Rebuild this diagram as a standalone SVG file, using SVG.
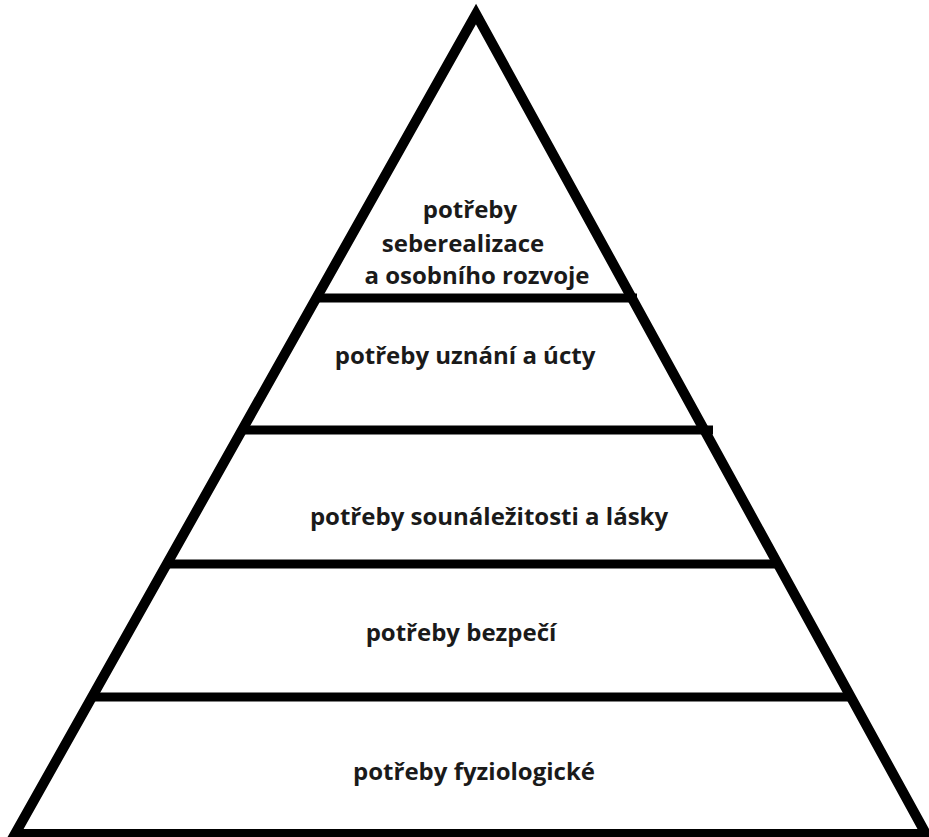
<svg xmlns="http://www.w3.org/2000/svg" width="929" height="837" viewBox="0 0 929 837">
<style>
.edge{fill:none;stroke:#000;stroke-width:10;stroke-linejoin:miter}
.bar{stroke:#000;stroke-width:9}
.lbl{font-family:"Open Sans","Liberation Sans",sans-serif;font-weight:bold;font-size:24px;fill:#1a1a1a;text-anchor:middle}
</style>
<rect width="929" height="837" fill="#fff"/>
<g id="connectors">
<path class="edge" d="M15,834 L476,14 L926,834 Z"/>
<line class="bar" x1="316" y1="298" x2="637" y2="298"/>
<line class="bar" x1="242" y1="430" x2="713" y2="430"/>
<line class="bar" x1="165" y1="564" x2="780" y2="564"/>
<line class="bar" x1="94" y1="697" x2="853" y2="697"/>
</g>
<g id="level5"><text class="lbl" x="470" y="218">potřeby</text><text class="lbl" x="463" y="252">seberealizace</text><text class="lbl" x="477" y="284">a osobního rozvoje</text></g>
<g id="level4"><text class="lbl" x="465" y="364">potřeby uznání a úcty</text></g>
<g id="level3"><text class="lbl" x="489" y="525">potřeby sounáležitosti a lásky</text></g>
<g id="level2"><text class="lbl" x="461" y="641">potřeby bezpečí</text></g>
<g id="level1"><text class="lbl" x="474" y="780">potřeby fyziologické</text></g>
</svg>
